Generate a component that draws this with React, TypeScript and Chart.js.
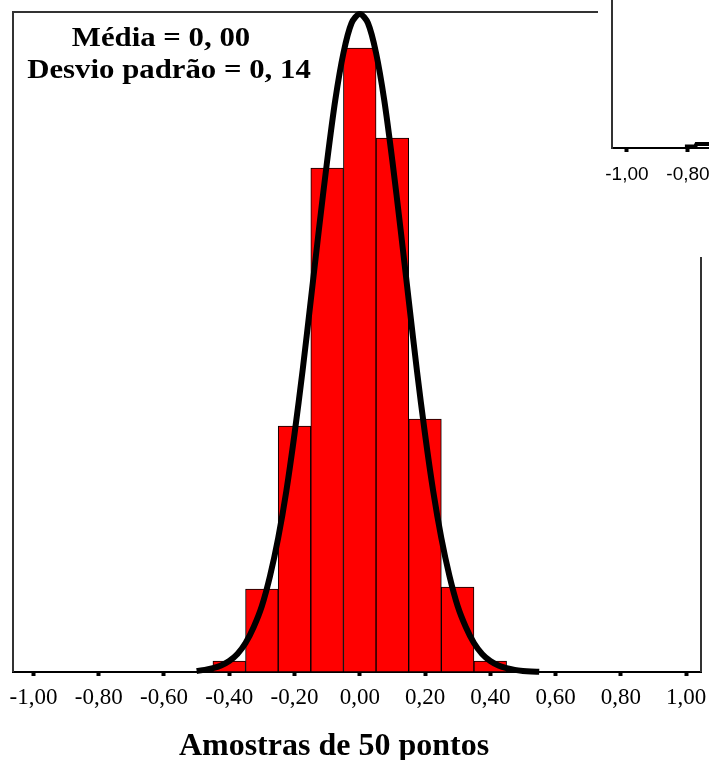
import React, { useEffect, useRef } from "react";
import { Chart, registerables } from "chart.js";

Chart.register(...registerables);

// Histogram bins (centres) and bar heights
const BIN_CENTERS = [-0.4, -0.3, -0.2, -0.1, 0.0, 0.1, 0.2, 0.3, 0.4];
const BIN_COUNTS = [1.1, 8.3, 24.6, 50.4, 62.4, 53.4, 25.3, 8.5, 1.1];

// Fitted normal curve
const CURVE_X = [
  -0.5, -0.475, -0.45, -0.425, -0.4, -0.375, -0.35, -0.325, -0.3, -0.275, -0.25,
  -0.225, -0.2, -0.175, -0.15, -0.125, -0.1, -0.075, -0.05, -0.025, 0.0,
  0.025, 0.05, 0.075, 0.1, 0.125, 0.15, 0.175, 0.2, 0.225, 0.25,
  0.275, 0.3, 0.325, 0.35, 0.375, 0.4, 0.425, 0.45, 0.475, 0.5, 0.525, 0.55,
];
const CURVE_Y = [
  0.11, 0.21, 0.38, 0.66, 1.1, 1.8, 2.9, 4.5, 6.6, 9.6, 13.4,
  18.1, 23.8, 30.2, 37.2, 44.3, 51.1, 57.2, 61.9, 64.9, 65.8,
  64.9, 61.9, 57.2, 51.1, 44.3, 37.2, 30.2, 23.8, 18.1, 13.4,
  9.6, 6.6, 4.5, 2.9, 1.8, 1.1, 0.66, 0.38, 0.21, 0.11, 0.05, 0.02,
];

const X_TICK_VALUES = [-1, -0.8, -0.6, -0.4, -0.2, 0, 0.2, 0.4, 0.6, 0.8, 1];
const X_TICK_LABELS = ["-1,00", "-0,80", "-0,60", "-0,40", "-0,20", "0,00", "0,20", "0,40", "0,60", "0,80", "1,00"];

const STATS_LINES = ["Média = 0, 00", "Desvio padrão = 0, 14"];
const X_TITLE = "Amostras de 50 pontos";

// Fragment of a neighbouring chart overlapping the top-right corner
const INSET_TICK_VALUES = [-1, -0.8];
const INSET_TICK_LABELS = ["-1,00", "-0,80"];
const INSET_CURVE_X = [-0.81, -0.776, -0.772, -0.73];
const INSET_CURVE_Y = [1.5, 1.5, 4, 4];

const framePlugin = {
  id: "frame",
  beforeDatasetsDraw(chart: any) {
    const { ctx, chartArea } = chart;
    const { left, right, top, bottom } = chartArea;
    ctx.save();
    ctx.strokeStyle = "#333";
    ctx.lineWidth = 2;
    ctx.beginPath();
    ctx.moveTo(left, bottom);
    ctx.lineTo(left, top);
    ctx.lineTo(right, top);
    ctx.lineTo(right, bottom);
    ctx.stroke();
    ctx.restore();
  },
};

const textPlugin = {
  id: "texts",
  afterDraw(chart: any) {
    const { ctx, chartArea } = chart;
    const { left, top, bottom } = chartArea;
    ctx.save();
    ctx.fillStyle = "#000";
    ctx.textAlign = "center";
    ctx.textBaseline = "alphabetic";
    ctx.font = "bold 28px 'Liberation Serif'";
    const pos = [
      [left + 148, top + 34],
      [left + 156, top + 66],
    ];
    STATS_LINES.forEach((line, i) => {
      ctx.save();
      ctx.translate(pos[i][0], pos[i][1]);
      ctx.scale(1.1, 1);
      ctx.fillText(line, 0, 0);
      ctx.restore();
    });
    ctx.font = "bold 32px 'Liberation Serif'";
    ctx.fillText(X_TITLE, left + 321, bottom + 83);
    ctx.restore();
  },
};

export default function App() {
  const mainRef = useRef<HTMLCanvasElement>(null);
  const insetRef = useRef<HTMLCanvasElement>(null);

  useEffect(() => {
    const main = new Chart(mainRef.current as HTMLCanvasElement, {
      type: "bar",
      data: {
        datasets: [
          {
            type: "line",
            data: CURVE_X.map((x, i) => ({ x, y: CURVE_Y[i] })),
            borderColor: "#000",
            borderWidth: 6,
            pointRadius: 0,
            tension: 0.3,
            fill: false,
            clip: false,
            order: 0,
          } as any,
          {
            type: "bar",
            data: BIN_CENTERS.map((x, i) => ({ x, y: BIN_COUNTS[i] })),
            backgroundColor: "#ff0000",
            borderColor: "#000",
            borderWidth: 1,
            borderSkipped: false,
            barPercentage: 1,
            categoryPercentage: 1,
            order: 1,
          } as any,
        ],
      },
      options: {
        responsive: false,
        devicePixelRatio: 1,
        animation: false,
        layout: { padding: { left: 13, top: 12, right: 8, bottom: 0 } },
        plugins: { legend: { display: false }, tooltip: { enabled: false } },
        scales: {
          x: {
            type: "linear",
            min: -1.0628,
            max: 1.0459,
            offset: false,
            afterBuildTicks: (scale: any) => {
              scale.ticks = X_TICK_VALUES.map((v) => ({ value: v }));
            },
            afterFit: (scale: any) => {
              scale.height = 88;
              scale.paddingLeft = 0;
              scale.paddingRight = 0;
            },
            ticks: {
              autoSkip: false,
              maxRotation: 0,
              minRotation: 0,
              padding: 8,
              color: "#000",
              font: { family: "'Liberation Serif'", size: 23 },
              callback: (_v: any, i: number) => X_TICK_LABELS[i],
            },
            grid: {
              display: true,
              offset: false,
              drawOnChartArea: false,
              drawTicks: true,
              tickLength: 4,
              tickWidth: 4,
              tickColor: "#000",
            },
            border: { display: true, color: "#000", width: 2 },
          },
          y: {
            type: "linear",
            display: false,
            min: 0,
            max: 66,
          },
        },
      } as any,
      plugins: [framePlugin, textPlugin],
    });

    const inset = new Chart(insetRef.current as HTMLCanvasElement, {
      type: "line",
      data: {
        datasets: [
          {
            data: INSET_CURVE_X.map((x, i) => ({ x, y: INSET_CURVE_Y[i] })),
            borderColor: "#000",
            borderWidth: 4,
            pointRadius: 0,
            tension: 0,
            fill: false,
          },
        ],
      },
      options: {
        responsive: false,
        devicePixelRatio: 1,
        animation: false,
        layout: { padding: { left: 14, top: 0, right: 0, bottom: 0 } },
        plugins: { legend: { display: false }, tooltip: { enabled: false } },
        scales: {
          x: {
            type: "linear",
            min: -1.049,
            max: -0.731,
            afterBuildTicks: (scale: any) => {
              scale.ticks = INSET_TICK_VALUES.map((v) => ({ value: v }));
            },
            afterFit: (scale: any) => {
              scale.height = 109;
              scale.paddingLeft = 0;
              scale.paddingRight = 0;
            },
            ticks: {
              autoSkip: false,
              maxRotation: 0,
              minRotation: 0,
              padding: 11,
              color: "#000",
              font: { family: "'Liberation Sans'", size: 19 },
              callback: (_v: any, i: number) => INSET_TICK_LABELS[i],
            },
            grid: {
              display: true,
              drawOnChartArea: false,
              drawTicks: true,
              tickLength: 4,
              tickWidth: 4,
              tickColor: "#000",
            },
            border: { display: true, color: "#000", width: 2 },
          },
          y: {
            type: "linear",
            min: 0,
            max: 148,
            ticks: { display: false },
            grid: { display: false, drawTicks: false },
            border: { display: true, color: "#333", width: 2 },
          },
        },
      } as any,
    });

    return () => {
      main.destroy();
      inset.destroy();
    };
  }, []);

  return (
    <div style={{ position: "absolute", left: 0, top: 0, width: 709, height: 760, background: "#fff" }}>
      <canvas
        ref={mainRef}
        width={709}
        height={760}
        style={{ position: "absolute", left: 0, top: 0, width: 709, height: 760 }}
      />
      <div style={{ position: "absolute", left: 598, top: 0, width: 111, height: 257, background: "#fff" }}>
        <canvas ref={insetRef} width={111} height={257} style={{ display: "block", width: 111, height: 257 }} />
      </div>
    </div>
  );
}
